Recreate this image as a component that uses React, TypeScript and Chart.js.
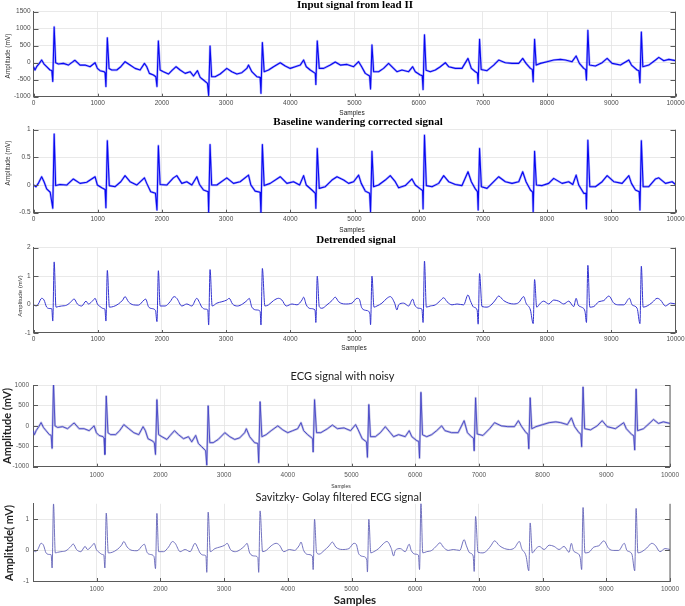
import React, { useEffect, useRef } from "react";
import { Chart, registerables } from "chart.js";

Chart.register(...registerables);

// ---------- DATA (sample index, amplitude) ----------
// Input signal from lead II (mV) – also shown as "ECG signal with noisy"
const inputLeadII: [number, number][] = [
  [0, -118], [23, -215], [49, -118], [91, -20], [127, 80], [164, -40], [205, -118], [257, -215], [285, -230], [300, -550], [322, 1050],
  [345, 0], [387, -40], [465, -20], [543, -70], [621, 40], [647, 70], [725, -70], [803, -70], [881, -118], [959, 0], [995, -167],
  [1037, -235], [1100, -265], [1115, -300], [1128, -700], [1150, 730], [1177, -170], [1219, -215], [1297, -215], [1360, -118],
  [1426, 30], [1504, -70], [1582, -167], [1660, -215], [1728, -20], [1764, -118], [1805, -314], [1868, -363], [1905, -412],
  [1923, -700], [1945, 640], [1972, -215], [2024, -265], [2102, -333], [2154, -235], [2221, -118], [2284, -215], [2362, -314],
  [2440, -265], [2492, -392], [2554, -235], [2596, -431], [2648, -510], [2710, -608], [2728, -960], [2750, 490], [2775, -412],
  [2829, -412], [2907, -333], [3011, -167], [3089, -265], [3167, -333], [3245, -294], [3323, -167], [3349, -70], [3401, -265],
  [3479, -412], [3530, -431], [3543, -900], [3565, 590], [3593, -265], [3661, -215], [3739, -118], [3843, 0], [3921, -98],
  [3999, -167], [4077, -118], [4155, -70], [4207, 78], [4249, -118], [4311, -215], [4389, -314], [4398, -640], [4420, 640],
  [4451, -167], [4519, -167], [4623, -70], [4700, 20], [4779, -70], [4883, -50], [4986, -118], [5064, 30], [5105, -98],
  [5168, -314], [5235, -392], [5250, -770], [5272, 520], [5298, -265], [5375, -265], [5453, -167], [5531, -20], [5609, -167],
  [5661, -265], [5739, -215], [5843, -265], [5906, -118], [5947, -265], [6025, -363], [6055, -380], [6068, -790], [6090, 820],
  [6115, -220], [6181, -265], [6259, -215], [6337, -118], [6415, 0], [6467, -118], [6571, -167], [6674, -167], [6768, 127],
  [6820, -167], [6882, -265], [6915, -300], [6926, -610], [6948, 686], [6973, -200], [7064, -235], [7168, -70], [7246, 78],
  [7350, 0], [7454, -20], [7558, -20], [7620, 127], [7672, -20], [7740, -167], [7770, -200], [7783, -560], [7805, 686],
  [7830, -70], [7896, -20], [8000, 30], [8103, 78], [8207, 98], [8285, 78], [8389, 30], [8452, 196], [8503, -20], [8571, -167],
  [8600, -200], [8613, -510], [8635, 950], [8660, -70], [8753, -98], [8857, 0], [8935, 127], [9013, -20], [9143, -70],
  [9273, 78], [9314, -70], [9402, -215], [9430, -240], [9446, -590], [9468, 900], [9491, -118], [9584, -70], [9688, 78],
  [9740, 157], [9818, 59], [9896, 98], [10000, 60],
];

// Baseline wandering corrected signal (mV)
const baselineCorrected: [number, number][] = [
  [0, 0], [39, -0.03], [75, 0.03], [127, 0.15], [164, 0.06], [205, -0.07], [260, -0.13], [300, -0.42], [322, 0.92], [345, -0.01],
  [413, 0.01], [517, 0], [621, 0.11], [725, 0.03], [829, 0.05], [959, 0.15], [995, 0], [1063, -0.05], [1115, -0.08], [1128, -0.41],
  [1150, 0.8], [1180, -0.01], [1271, -0.03], [1360, 0.06], [1426, 0.17], [1504, 0.06], [1608, 0], [1728, 0.13], [1764, 0.03],
  [1826, -0.12], [1900, -0.15], [1923, -0.45], [1945, 0.71], [1972, 0.01], [2076, 0], [2180, 0.13], [2232, 0.17], [2310, 0.03],
  [2388, 0.06], [2466, 0], [2544, 0.15], [2586, 0.01], [2648, -0.09], [2720, -0.12], [2728, -0.49], [2750, 0.73], [2775, 0],
  [2856, 0], [3011, 0.13], [3115, 0.03], [3219, 0.06], [3349, 0.18], [3386, 0], [3453, -0.11], [3530, -0.13], [3543, -0.53],
  [3565, 0.73], [3593, -0.01], [3687, 0.03], [3843, 0.15], [3947, 0.03], [4051, 0.06], [4145, 0], [4207, 0.17], [4249, 0],
  [4337, -0.09], [4390, -0.15], [4398, -0.42], [4420, 0.66], [4451, -0.06], [4545, -0.03], [4649, 0.09], [4727, 0.15],
  [4831, 0.09], [4908, 0.03], [4986, 0.06], [5064, 0.18], [5105, 0.03], [5168, -0.11], [5235, -0.15], [5250, -0.48],
  [5272, 0.61], [5298, -0.03], [5375, 0], [5479, 0.09], [5557, 0.17], [5635, 0.06], [5687, -0.05], [5791, -0.01], [5895, 0.11],
  [5947, 0], [6025, -0.07], [6060, -0.1], [6068, -0.43], [6090, 0.9], [6119, -0.01], [6207, -0.03], [6311, 0.03], [6389, 0.17],
  [6467, 0.06], [6571, 0.01], [6674, -0.01], [6768, 0.24], [6820, 0.06], [6882, -0.07], [6915, -0.12], [6926, -0.45],
  [6948, 0.66], [6976, -0.03], [7064, -0.06], [7168, 0.06], [7246, 0.15], [7350, 0.06], [7454, 0.03], [7558, 0.06], [7620, 0.24],
  [7672, 0.06], [7740, -0.09], [7775, -0.13], [7783, -0.48], [7805, 0.61], [7833, 0], [7922, -0.01], [8025, 0.03], [8103, 0.12],
  [8233, 0.03], [8337, 0.06], [8400, 0.01], [8452, 0.18], [8493, 0], [8571, -0.15], [8605, -0.15], [8613, -0.43], [8635, 0.81],
  [8665, -0.03], [8753, -0.03], [8857, 0.06], [8935, 0.17], [9039, 0.06], [9169, 0.03], [9273, 0.17], [9314, 0.03],
  [9376, -0.09], [9435, -0.12], [9446, -0.45], [9468, 0.8], [9496, -0.03], [9584, -0.03], [9688, 0.11], [9740, 0.13],
  [9844, 0.03], [9948, 0.06], [10000, 0.01],
];

// Detrended signal (mV) – also shown as the Savitzky-Golay filtered signal
const detrended: [number, number][] = [
  [0, 0], [39, -0.05], [75, 0.02], [127, 0.22], [164, 0.16], [205, -0.09], [257, -0.14], [285, -0.15], [300, -0.58], [322, 1.5],
  [350, -0.09], [387, -0.07], [439, -0.05], [517, -0.02], [595, 0.12], [631, 0.2], [683, 0.02], [751, -0.05], [818, 0.12],
  [855, 0.02], [933, 0.16], [959, 0.22], [995, 0.02], [1037, -0.07], [1089, -0.14], [1112, -0.16], [1128, -0.58], [1150, 1.2],
  [1182, -0.09], [1244, -0.07], [1322, 0.02], [1390, 0.16], [1426, 0.28], [1478, 0.1], [1556, -0.01], [1634, -0.02], [1722, 0.16],
  [1748, 0.19], [1790, -0.07], [1842, -0.14], [1900, -0.21], [1923, -0.6], [1945, 1.19], [1972, -0.05], [2050, -0.05],
  [2128, 0.1], [2190, 0.28], [2232, 0.22], [2310, -0.05], [2388, 0.02], [2466, -0.05], [2544, 0.22], [2586, 0.07], [2622, -0.09],
  [2674, -0.16], [2715, -0.19], [2728, -0.72], [2750, 1.23], [2783, -0.05], [2856, 0.05], [2934, 0.1], [3011, 0.16], [3048, 0.22],
  [3100, 0.02], [3178, -0.05], [3256, 0.02], [3334, 0.16], [3360, 0.22], [3401, -0.09], [3479, -0.19], [3530, -0.24],
  [3543, -0.72], [3565, 1.27], [3604, -0.05], [3661, -0.01], [3739, 0.14], [3817, 0.22], [3869, 0.16], [3937, -0.05],
  [4026, 0.02], [4104, -0.01], [4182, 0.16], [4207, 0.26], [4249, -0.01], [4311, -0.14], [4385, -0.19], [4398, -0.63],
  [4420, 1.0], [4451, -0.07], [4493, -0.13], [4571, -0.01], [4649, 0.14], [4700, 0.26], [4753, 0.1], [4856, 0.02], [4960, 0.05],
  [5038, 0.22], [5074, 0.19], [5116, -0.13], [5194, -0.21], [5240, -0.33], [5250, -0.71], [5272, 1.0], [5303, -0.09],
  [5350, -0.05], [5427, 0.05], [5505, 0.22], [5557, 0.28], [5625, 0.05], [5661, -0.19], [5687, -0.01], [5765, 0.05],
  [5843, -0.05], [5906, 0.19], [5937, -0.01], [6000, -0.13], [6050, -0.16], [6068, -0.63], [6090, 1.53], [6119, -0.09],
  [6181, -0.05], [6259, -0.01], [6337, 0.14], [6389, 0.24], [6441, 0.1], [6519, -0.01], [6597, 0.02], [6700, -0.01], [6768, 0.34],
  [6804, 0.14], [6856, -0.09], [6910, -0.19], [6926, -0.69], [6948, 1.09], [6986, -0.07], [7064, -0.09], [7142, 0.02],
  [7194, 0.16], [7246, 0.3], [7324, 0.14], [7402, 0.05], [7480, 0.02], [7558, 0.07], [7636, 0.28], [7672, 0.05], [7740, -0.19],
  [7783, -0.67], [7805, 0.88], [7838, -0.09], [7896, 0.05], [7947, 0.12], [8025, 0.02], [8103, 0.16], [8181, 0.12], [8259, 0.02],
  [8337, 0.12], [8415, -0.07], [8452, 0.22], [8483, -0.01], [8535, -0.09], [8590, -0.24], [8613, -0.63], [8635, 1.38],
  [8665, -0.09], [8727, -0.07], [8805, 0.1], [8883, 0.14], [8961, 0.3], [9039, 0.05], [9117, -0.01], [9195, -0.01], [9283, 0.22],
  [9324, -0.01], [9402, -0.13], [9446, -0.67], [9468, 1.35], [9496, -0.09], [9558, -0.05], [9636, 0.07], [9714, 0.22],
  [9766, 0.16], [9844, -0.05], [9922, 0.05], [10000, 0.02],
];

const noisyEcg = inputLeadII;
const sgFiltered = detrended;

// Tick labels
const xTicksWithZero = [0, 1000, 2000, 3000, 4000, 5000, 6000, 7000, 8000, 9000, 10000];
const xTicksNoZero = [1000, 2000, 3000, 4000, 5000, 6000, 7000, 8000, 9000, 10000];
const inputYTicks = [-1000, -500, 0, 500, 1000, 1500];
const baselineYTicks = [-0.5, 0, 0.5, 1];
const detrendedYTicks = [-1, 0, 1, 2];
const noisyYTicks = [-1000, -500, 0, 500, 1000];
const filteredYTicks = [-1, 0, 1];

// Text
const titles = [
  "Input signal from lead II",
  "Baseline wandering corrected signal",
  "Detrended signal",
  "ECG signal with noisy",
  "Savitzky- Golay filtered ECG signal",
];

// ---------- STYLE / LAYOUT ----------
const W = 685;
const H = 606;

type TextItem = { text: string; x: number; y: number; font: string; color: string; rotate?: boolean };
type LineStyle = { color: string; width: number };
type Panel = {
  data: [number, number][];
  yMin: number;
  yMax: number;
  yTicks: number[];
  xTicks: number[];
  area: { left: number; right: number; top: number; bottom: number };
  tickFont: { family: string; size: number };
  tickColor: string;
  xPad: number;
  yPad: number;
  lines: LineStyle[];
  smooth: boolean;
  texts: TextItem[];
};

const SERIF = "'Liberation Serif', 'DejaVu Serif', serif";
const SANS = "'Liberation Sans', Arial, sans-serif";
const CAL = "Lato, 'Liberation Sans', sans-serif";

const panels: Panel[] = [
  {
    data: inputLeadII, yMin: -1000, yMax: 1500, yTicks: inputYTicks, xTicks: xTicksWithZero,
    area: { left: 33.5, right: 675.5, top: 11.7, bottom: 96.7 },
    tickFont: { family: SANS, size: 6.5 }, tickColor: "#4a4a4a", xPad: 2.4, yPad: 3,
    lines: [{ color: "rgba(20,20,255,0.35)", width: 2.3 }, { color: "#0000e8", width: 1.1 }], smooth: false,
    texts: [
      { text: titles[0], x: 355, y: 5.5, font: `bold 11px ${SERIF}`, color: "#000" },
      { text: "Amplitude (mV)", x: 8, y: 56, font: `6.5px ${SANS}`, color: "#333", rotate: true },
      { text: "Samples", x: 352, y: 113, font: `6.5px ${SANS}`, color: "#222" },
    ],
  },
  {
    data: baselineCorrected, yMin: -0.5, yMax: 1, yTicks: baselineYTicks, xTicks: xTicksWithZero,
    area: { left: 33.5, right: 675.5, top: 129.7, bottom: 212.7 },
    tickFont: { family: SANS, size: 6.5 }, tickColor: "#4a4a4a", xPad: 2.4, yPad: 3,
    lines: [{ color: "rgba(20,20,255,0.35)", width: 2.3 }, { color: "#0000e8", width: 1.1 }], smooth: false,
    texts: [
      { text: titles[1], x: 358, y: 122, font: `bold 11px ${SERIF}`, color: "#000" },
      { text: "Amplitude (mV)", x: 8, y: 163, font: `6.5px ${SANS}`, color: "#333", rotate: true },
      { text: "Samples", x: 352, y: 230.5, font: `6.5px ${SANS}`, color: "#222" },
    ],
  },
  {
    data: detrended, yMin: -1, yMax: 2, yTicks: detrendedYTicks, xTicks: xTicksWithZero,
    area: { left: 33.5, right: 675.5, top: 247.7, bottom: 333 },
    tickFont: { family: SANS, size: 6.5 }, tickColor: "#4a4a4a", xPad: 2.4, yPad: 3,
    lines: [{ color: "#3434d0", width: 1 }], smooth: true,
    texts: [
      { text: titles[2], x: 356, y: 240, font: `bold 11px ${SERIF}`, color: "#000" },
      { text: "Amplitude (mV)", x: 20, y: 296, font: `6px ${SANS}`, color: "#333", rotate: true },
      { text: "Samples", x: 354, y: 348.3, font: `6.5px ${SANS}`, color: "#222" },
    ],
  },
  {
    data: noisyEcg, yMin: -1000, yMax: 1000, yTicks: noisyYTicks, xTicks: xTicksNoZero,
    area: { left: 33, right: 670, top: 385, bottom: 466.7 },
    tickFont: { family: SANS, size: 6.5 }, tickColor: "#555", xPad: 4.5, yPad: 4,
    lines: [{ color: "rgba(110,110,190,0.42)", width: 2.2 }, { color: "#2222cc", width: 0.9 }], smooth: false,
    texts: [
      { text: titles[3], x: 342.5, y: 376, font: `11px ${CAL}`, color: "#222" },
      { text: "Amplitude (mV)", x: 7, y: 426, font: `bold 11px ${CAL}`, color: "#222", rotate: true },
      { text: "Samples", x: 341, y: 486.5, font: `5px ${SANS}`, color: "#333" },
    ],
  },
  {
    data: sgFiltered, yMin: -1, yMax: 1.5, yTicks: filteredYTicks, xTicks: xTicksNoZero,
    area: { left: 33, right: 670, top: 503.8, bottom: 581 },
    tickFont: { family: SANS, size: 6.5 }, tickColor: "#555", xPad: 4, yPad: 4,
    lines: [{ color: "#6363b8", width: 0.9 }], smooth: true,
    texts: [
      { text: titles[4], x: 338.5, y: 497, font: `11px ${CAL}`, color: "#222" },
      { text: "Amplitude( mV)", x: 9, y: 543, font: `bold 11px ${CAL}`, color: "#222", rotate: true },
      { text: "Samples", x: 355, y: 600, font: `bold 11.5px ${CAL}`, color: "#222" },
    ],
  },
];

const AXIS = "#5a5a5a";
const GRID = "#e3e3e3";

const decorPlugin = {
  id: "panelDecor",
  afterDraw(chart: any, _args: any, opts: any) {
    const { ctx, chartArea: a, scales } = chart;
    ctx.save();
    ctx.strokeStyle = AXIS;
    ctx.lineWidth = 1;
    // right axis line
    ctx.beginPath();
    ctx.moveTo(a.right, a.top);
    ctx.lineTo(a.right, a.bottom);
    ctx.stroke();
    // inward y ticks on left and right
    ctx.beginPath();
    for (const t of scales.y.ticks) {
      const py = Math.round(scales.y.getPixelForValue(t.value)) + 0.5;
      ctx.moveTo(a.left, py);
      ctx.lineTo(a.left + 5, py);
      ctx.moveTo(a.right, py);
      ctx.lineTo(a.right - 5, py);
    }
    // inward x ticks
    for (const t of scales.x.ticks) {
      const px = Math.round(scales.x.getPixelForValue(t.value)) + 0.5;
      ctx.moveTo(px, a.bottom);
      ctx.lineTo(px, a.bottom - 3);
    }
    ctx.stroke();
    // texts
    for (const t of (opts.texts || []) as TextItem[]) {
      ctx.save();
      ctx.font = t.font;
      ctx.fillStyle = t.color;
      ctx.textAlign = "center";
      ctx.textBaseline = "middle";
      ctx.translate(t.x, t.y);
      if (t.rotate) ctx.rotate(-Math.PI / 2);
      ctx.fillText(t.text, 0, 0);
      ctx.restore();
    }
    ctx.restore();
  },
};

function buildConfig(p: Panel): any {
  const pts = p.data.map(([x, y]) => ({ x, y }));
  const zeroPad = (s: any) => {
    s.paddingLeft = 0;
    s.paddingRight = 0;
    s.paddingTop = 0;
    s.paddingBottom = 0;
  };
  return {
    type: "line",
    data: {
      datasets: p.lines.map((l) => ({
        data: pts,
        borderColor: l.color,
        borderWidth: l.width,
        pointRadius: 0,
        fill: false,
        borderJoinStyle: "round",
        cubicInterpolationMode: p.smooth ? "monotone" : "default",
        tension: p.smooth ? 0.4 : 0,
      })),
    },
    options: {
      responsive: false,
      animation: false,
      devicePixelRatio: 1,
      events: [],
      layout: { padding: { left: 0, right: W - p.area.right, top: p.area.top, bottom: 0 } },
      plugins: {
        legend: { display: false },
        tooltip: { enabled: false },
        title: { display: false },
        panelDecor: { texts: p.texts },
      },
      scales: {
        x: {
          type: "linear",
          min: 0,
          max: 10000,
          afterBuildTicks: (s: any) => {
            s.ticks = p.xTicks.map((v) => ({ value: v }));
          },
          afterFit: (s: any) => {
            s.height = H - p.area.bottom;
            zeroPad(s);
          },
          ticks: {
            autoSkip: false,
            maxRotation: 0,
            padding: p.xPad,
            color: p.tickColor,
            font: { family: p.tickFont.family, size: p.tickFont.size, lineHeight: 1.2 },
            callback: (v: any) => String(v),
          },
          grid: { color: GRID, lineWidth: 0.8, drawTicks: false },
          border: { color: AXIS, width: 1 },
        },
        y: {
          type: "linear",
          min: p.yMin,
          max: p.yMax,
          afterBuildTicks: (s: any) => {
            s.ticks = p.yTicks.map((v) => ({ value: v }));
          },
          afterFit: (s: any) => {
            s.width = p.area.left;
            zeroPad(s);
          },
          ticks: {
            autoSkip: false,
            padding: p.yPad,
            color: p.tickColor,
            font: { family: p.tickFont.family, size: p.tickFont.size, lineHeight: 1.2 },
            callback: (v: any) => String(v),
          },
          grid: { color: GRID, lineWidth: 0.8, drawTicks: false },
          border: { color: AXIS, width: 1 },
        },
      },
    },
    plugins: [decorPlugin],
  };
}

export default function App() {
  const refs = useRef<(HTMLCanvasElement | null)[]>([]);

  useEffect(() => {
    const charts: Chart[] = [];
    panels.forEach((p, i) => {
      const c = refs.current[i];
      if (c) charts.push(new Chart(c, buildConfig(p)));
    });
    return () => charts.forEach((ch) => ch.destroy());
  }, []);

  return (
    <div style={{ position: "absolute", left: 0, top: 0, width: W, height: H, background: "#fff", overflow: "hidden" }}>
      {panels.map((_, i) => (
        <canvas
          key={i}
          ref={(el) => {
            refs.current[i] = el;
          }}
          width={W}
          height={H}
          style={{ position: "absolute", left: 0, top: 0, width: W, height: H }}
        />
      ))}
    </div>
  );
}
